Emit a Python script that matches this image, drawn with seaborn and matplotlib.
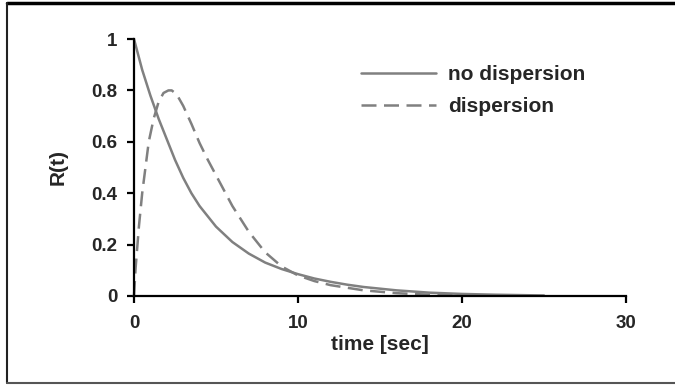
import matplotlib
matplotlib.use("Agg")
import matplotlib.pyplot as plt
import seaborn as sns
import pandas as pd
from matplotlib.lines import Line2D
from matplotlib.ticker import FuncFormatter

# data
t_nodisp = [0, 0.5, 1, 1.5, 2, 2.5, 3, 3.5, 4, 4.5, 5, 6, 7, 8, 9, 10, 11, 12,
            13, 14, 16, 18, 20, 22, 25]
r_nodisp = [1.0, 0.88, 0.78, 0.69, 0.61, 0.53, 0.46, 0.40, 0.35, 0.31, 0.27,
            0.21, 0.165, 0.13, 0.105, 0.085, 0.068, 0.055, 0.044, 0.035, 0.022,
            0.013, 0.008, 0.005, 0.002]
t_disp = [0, 0.1, 0.3, 0.5, 0.7, 0.9, 1.2, 1.5, 1.8, 2.1, 2.3, 2.6, 3, 3.5, 4,
          4.5, 5, 5.5, 6, 6.5, 7, 7.5, 8, 9, 10, 11, 12, 14, 16, 18, 20]
r_disp = [0, 0.11, 0.27, 0.40, 0.50, 0.60, 0.69, 0.755, 0.79, 0.80, 0.80, 0.785,
          0.74, 0.67, 0.595, 0.53, 0.47, 0.41, 0.35, 0.30, 0.25, 0.21, 0.17,
          0.115, 0.08, 0.058, 0.042, 0.022, 0.011, 0.005, 0.003]
series_names = ["no dispersion", "dispersion"]
x_ticks = [0, 10, 20, 30]
y_ticks = [0, 0.2, 0.4, 0.6, 0.8, 1.0]

df = pd.concat([
    pd.DataFrame({"t": t_nodisp, "R": r_nodisp, "series": series_names[0]}),
    pd.DataFrame({"t": t_disp, "R": r_disp, "series": series_names[1]}),
])

sns.set_theme(style="white")
plt.rcParams["font.family"] = ["Liberation Sans", "DejaVu Sans"]
plt.rcParams["font.weight"] = "bold"

fig = plt.figure(figsize=(6.75, 3.85), dpi=100)
ax = fig.add_axes([0.1985, 0.2312, 0.7289, 0.6675])

gray = "#808080"
sns.lineplot(data=df, x="t", y="R", style="series", ax=ax,
             color=gray, linewidth=1.8, sort=False, estimator=None,
             dashes={series_names[0]: "", series_names[1]: (6, 3)})

ax.set_xlim(0, 30)
ax.set_ylim(0, 1)
ax.set_xticks(x_ticks)
ax.set_yticks(y_ticks)
fmt = FuncFormatter(lambda v, p: f"{v:g}")
ax.xaxis.set_major_formatter(fmt)
ax.yaxis.set_major_formatter(fmt)
for s in ["top", "right"]:
    ax.spines[s].set_visible(False)
for s in ["left", "bottom"]:
    ax.spines[s].set_color("black")
    ax.spines[s].set_linewidth(1.6)
ax.tick_params(axis="both", which="major", direction="out", length=5, width=1.6,
               color="black", labelsize=13.5, bottom=True, left=True)
ax.tick_params(axis="x", pad=9)
ax.tick_params(axis="y", pad=7)
for lab in ax.get_xticklabels() + ax.get_yticklabels():
    lab.set_fontweight("bold")
ax.set_xlabel("time [sec]", fontsize=15, fontweight="bold", labelpad=2)
ax.set_ylabel("R(t)", fontsize=15, fontweight="bold", labelpad=17)
for ln in ax.get_lines():
    ln.set_clip_on(False)

leg = ax.legend(loc="upper left", bbox_to_anchor=(0.424, 0.97), frameon=False,
                fontsize=15, handlelength=3.6, handletextpad=0.55,
                labelspacing=0.6, title=None)
for txt in leg.get_texts():
    txt.set_fontweight("bold")
for h in leg.get_lines():
    h.set_color(gray)
    h.set_linewidth(1.8)

# figure frame
x0, y0, y1 = 7 / 675, 1 - 383 / 385, 1 - 3 / 385
fig.add_artist(Line2D([x0, 1.0], [y1, y1], color="black", linewidth=2.5,
                      transform=fig.transFigure))
fig.add_artist(Line2D([x0, x0], [y0, y1], color="#222222", linewidth=1.5,
                      transform=fig.transFigure))
fig.add_artist(Line2D([x0, 1.0], [y0, y0], color="#555555", linewidth=1.5,
                      transform=fig.transFigure))

fig.savefig("out.png", dpi=100, facecolor="white")
